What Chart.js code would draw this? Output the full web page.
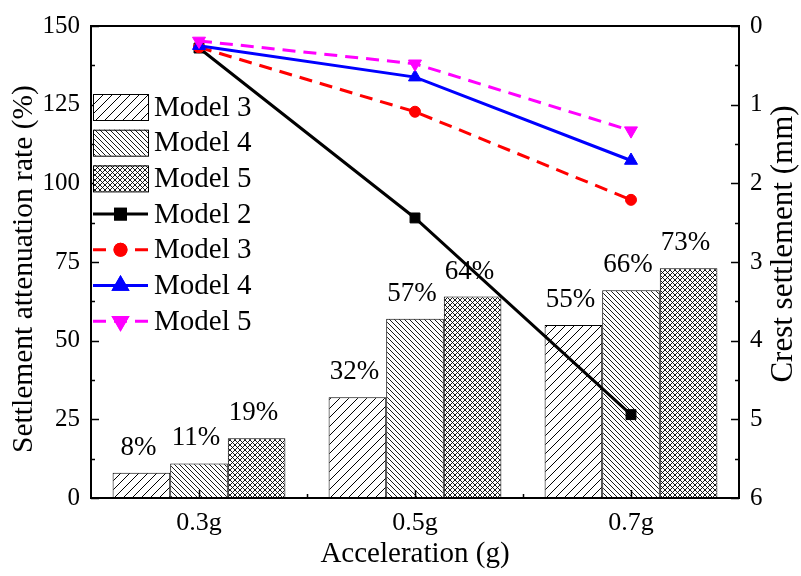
<!DOCTYPE html>
<html>
<head>
<meta charset="utf-8">
<script src="https://cdn.jsdelivr.net/npm/chart.js@4.4.1/dist/chart.umd.min.js"></script>
<style>
html,body{margin:0;padding:0;background:#fff;}
#wrap{width:801px;height:576px;}
</style>
</head>
<body>
<div id="wrap"><canvas id="c" width="801" height="576"></canvas></div>
<script>
// ---- data ----
const categories = ['0.3g', '0.5g', '0.7g'];
const barModel3 = [8, 32, 55];
const barModel4 = [11, 57, 66];
const barModel5 = [19, 64, 73];
const lineModel2 = [0.28, 2.44, 4.94];
const lineModel3 = [0.27, 1.09, 2.21];
const lineModel4 = [0.25, 0.65, 1.71];
const lineModel5 = [0.19, 0.48, 1.33];
const leftTicks = [0, 25, 50, 75, 100, 125, 150];
const rightTicks = [0, 1, 2, 3, 4, 5, 6];

const FONT = '"Liberation Serif", "Times New Roman", serif';

function makePattern(kind) {
  const s = kind === 'fwd' ? 9 : 5;
  const c = document.createElement('canvas');
  c.width = s; c.height = s;
  const g = c.getContext('2d');
  g.fillStyle = '#fff';
  g.fillRect(0, 0, s, s);
  g.strokeStyle = '#000';
  g.lineWidth = kind === 'fwd' ? 1 : 0.9;
  g.beginPath();
  if (kind === 'fwd' || kind === 'cross') {
    for (let k = -1; k <= 1; k++) {
      g.moveTo(-1 + k * s, s + 1);
      g.lineTo(s + 1 + k * s, -1);
    }
  }
  if (kind === 'back' || kind === 'cross') {
    for (let k = -1; k <= 1; k++) {
      g.moveTo(-1 + k * s, -1);
      g.lineTo(s + 1 + k * s, s + 1);
    }
  }
  g.stroke();
  return g.createPattern(c, 'repeat');
}

const ctx = document.getElementById('c').getContext('2d');
const patFwd = makePattern('fwd');
const patBack = makePattern('back');
const patCross = makePattern('cross');

const helperPlugin = {
  id: 'helper',
  beforeDraw(chart) {
    const c = chart.ctx;
    c.save();
    c.fillStyle = '#fff';
    c.fillRect(0, 0, chart.width, chart.height);
    c.restore();
  },
  afterDraw(chart) {
    const c = chart.ctx;
    const a = chart.chartArea;
    const x = chart.scales.x, y = chart.scales.y, y2 = chart.scales.y2;
    c.save();
    // frame
    c.strokeStyle = '#000';
    c.lineWidth = 2;
    c.strokeRect(a.left, a.top, a.right - a.left, a.bottom - a.top);
    // ticks (inward)
    c.lineWidth = 1.5;
    c.beginPath();
    for (let v = 0; v <= 150; v += 12.5) {
      const py = Math.round(y.getPixelForValue(v)) + 0.5;
      const len = (v % 25 === 0) ? 8 : 4;
      c.moveTo(a.left, py); c.lineTo(a.left + len, py);
    }
    for (let v = 0; v <= 6; v += 0.5) {
      const py = Math.round(y2.getPixelForValue(v)) + 0.5;
      const len = (v % 1 === 0) ? 8 : 4;
      c.moveTo(a.right, py); c.lineTo(a.right - len, py);
    }
    for (let i = 0; i < categories.length; i++) {
      const px = Math.round(x.getPixelForValue(i)) + 0.5;
      c.moveTo(px, a.bottom); c.lineTo(px, a.bottom - 8);
      if (i > 0) {
        const pb = Math.round((x.getPixelForValue(i) + x.getPixelForValue(i - 1)) / 2) + 0.5;
        c.moveTo(pb, a.bottom); c.lineTo(pb, a.bottom - 4);
      }
    }
    c.stroke();

    // percent labels
    c.fillStyle = '#000';
    c.font = '27px ' + FONT;
    c.textAlign = 'center';
    c.textBaseline = 'middle';
    for (let d = 0; d < 3; d++) {
      const meta = chart.getDatasetMeta(d);
      const ds = chart.data.datasets[d];
      meta.data.forEach((el, i) => {
        c.fillText(ds.data[i] + '%', el.x - 3, el.y - 25);
      });
    }

    // axis titles
    c.font = '29px ' + FONT;
    c.fillText('Acceleration (g)', (a.left + a.right) / 2, 554);
    c.save();
    c.translate(24, 269);
    c.rotate(-Math.PI / 2);
    c.font = '29.5px ' + FONT;
    c.fillText('Settlement attenuation rate (%)', 0, 0);
    c.restore();
    c.save();
    c.translate(784, 244);
    c.rotate(-Math.PI / 2);
    c.font = '31px ' + FONT;
    c.fillText('Crest settlement (mm)', 0, 0);
    c.restore();

    // legend
    const lx0 = 93, lx1 = 148, tx = 154;
    let ly = 107;
    const step = 35.7;
    c.font = '29px ' + FONT;
    c.textAlign = 'left';
    chart.data.datasets.forEach((ds, d) => {
      const cy = ly + d * step;
      if (ds.type === 'bar') {
        c.fillStyle = ds.backgroundColor;
        c.fillRect(lx0, cy - 13, lx1 - lx0, 26);
        c.strokeStyle = '#000';
        c.lineWidth = 1;
        c.strokeRect(lx0 + 0.5, cy - 13 + 0.5, lx1 - lx0, 26);
      } else {
        c.strokeStyle = ds.borderColor;
        c.lineWidth = 3;
        c.setLineDash(ds.borderDash || []);
        c.beginPath();
        c.moveTo(lx0, cy); c.lineTo(lx1, cy);
        c.stroke();
        c.setLineDash([]);
        Chart.helpers.drawPoint(c, {
          pointStyle: ds.pointStyle, radius: ds.pointRadius,
          rotation: ds.rotation || 0, borderWidth: 1
        }, (lx0 + lx1) / 2, cy);
        c.fillStyle = ds.pointBackgroundColor;
        c.strokeStyle = ds.pointBorderColor;
        c.fill();
        c.stroke();
      }
      c.fillStyle = '#000';
      c.fillText(ds.label, tx, cy + 1);
    });
    c.restore();
  }
};

function lineDs(label, data, color, style, dash, rot, r, ord) {
  return {
    type: 'line', label, data, yAxisID: 'y2',
    borderColor: color, borderWidth: 3, borderDash: dash,
    pointStyle: style, pointRadius: r, pointHoverRadius: r, rotation: rot,
    pointBackgroundColor: color, pointBorderColor: color, pointBorderWidth: 1,
    fill: false, tension: 0, order: ord
  };
}

new Chart(ctx, {
  type: 'bar',
  data: {
    labels: categories,
    datasets: [
      { type: 'bar', label: 'Model 3', data: barModel3, yAxisID: 'y', backgroundColor: patFwd, borderColor: '#000', borderWidth: 1, order: 5 },
      { type: 'bar', label: 'Model 4', data: barModel4, yAxisID: 'y', backgroundColor: patBack, borderColor: '#000', borderWidth: 1, order: 5 },
      { type: 'bar', label: 'Model 5', data: barModel5, yAxisID: 'y', backgroundColor: patCross, borderColor: '#000', borderWidth: 1, order: 5 },
      lineDs('Model 2', lineModel2, '#000000', 'rect', [], 0, 7, 4),
      lineDs('Model 3', lineModel3, '#ff0000', 'circle', [13, 8], 0, 5.5, 3),
      lineDs('Model 4', lineModel4, '#0000ff', 'triangle', [], 0, 7.5, 2),
      lineDs('Model 5', lineModel5, '#ff00ff', 'triangle', [13, 8], 180, 7.5, 1)
    ]
  },
  options: {
    responsive: false,
    animation: false,
    events: [],
    layout: { padding: { top: 21, left: 0, right: 0, bottom: 0 } },
    datasets: { bar: { categoryPercentage: 0.8, barPercentage: 1.0 } },
    plugins: { legend: { display: false }, tooltip: { enabled: false }, title: { display: false } },
    scales: {
      x: {
        type: 'category', offset: true,
        grid: { display: false, drawTicks: false },
        border: { display: false },
        ticks: { color: '#000', font: { family: FONT, size: 26 }, padding: 10, maxRotation: 0 },
        afterFit(s) { s.height = 78; }
      },
      y: {
        position: 'left', min: 0, max: 150,
        afterBuildTicks(s) { s.ticks = leftTicks.map(v => ({ value: v })); },
        grid: { display: false, drawTicks: false },
        border: { display: false },
        ticks: { color: '#000', font: { family: FONT, size: 25 }, padding: 11 },
        afterFit(s) { s.width = 91; }
      },
      y2: {
        position: 'right', min: 0, max: 6, reverse: true,
        afterBuildTicks(s) { s.ticks = rightTicks.map(v => ({ value: v })); },
        grid: { display: false, drawTicks: false },
        border: { display: false },
        ticks: { color: '#000', font: { family: FONT, size: 25 }, padding: 11 },
        afterFit(s) { s.width = 62; }
      }
    }
  },
  plugins: [helperPlugin]
});
</script>
</body>
</html>
